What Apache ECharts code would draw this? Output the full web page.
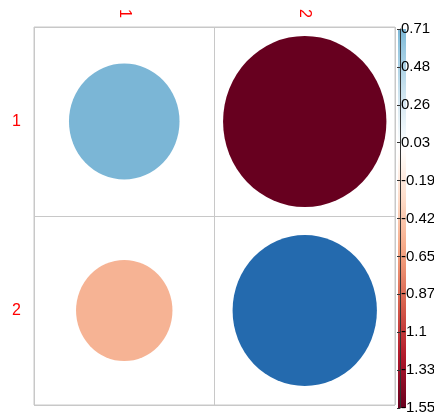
<!DOCTYPE html>
<html>
<head>
<meta charset="utf-8">
<script src="https://cdn.jsdelivr.net/npm/echarts@6/dist/echarts.min.js"></script>
<style>
  html, body { margin: 0; padding: 0; background: #fff; }
  #chart { width: 434px; height: 417px; }
</style>
</head>
<body>
<div id="chart"></div>
<script>
// ---- data ----
var rowLabels = ['1', '2'];
var colLabels = ['1', '2'];
// values[row][col]
var row1Values = [0.71, -1.55];
var row2Values = [-0.54, 1.21];
var colorbarLabels = ['-1.55', '-1.33', '-1.1', '-0.87', '-0.65', '-0.42', '-0.19', '0.03', '0.26', '0.48', '0.71'];
var colorbarMin = -1.55;
var colorbarMax = 0.71;

// RdBu palette (corrplot COL2), mapped symmetrically over [-limit, limit]
var palette = ['#67001F', '#B2182B', '#D6604D', '#F4A582', '#FDDBC7', '#FFFFFF',
               '#D1E5F0', '#92C5DE', '#4393C3', '#2166AC', '#053061'];
var limit = 1.55;

function hexToRgb(h) {
  return [parseInt(h.substr(1, 2), 16), parseInt(h.substr(3, 2), 16), parseInt(h.substr(5, 2), 16)];
}
function colorFor(v) {
  var t = (v + limit) / (2 * limit);
  t = Math.max(0, Math.min(1, t));
  var p = t * (palette.length - 1);
  var i = Math.min(palette.length - 2, Math.floor(p));
  var f = p - i;
  var a = hexToRgb(palette[i]), b = hexToRgb(palette[i + 1]);
  var c = a.map(function (x, k) { return Math.round(x + (b[k] - x) * f); });
  return 'rgb(' + c.join(',') + ')';
}

var matrix = [row1Values, row2Values];
var maxAbs = 0;
matrix.forEach(function (r) { r.forEach(function (v) { maxAbs = Math.max(maxAbs, Math.abs(v)); }); });

var cellData = [];
matrix.forEach(function (r, ri) {
  r.forEach(function (v, ci) { cellData.push([ci, ri, v]); });
});

var fontFam = '"Liberation Sans", Arial, sans-serif';

var chart = echarts.init(document.getElementById('chart'), null, { renderer: 'canvas' });

var option = {
  backgroundColor: '#fff',
  animation: false,
  grid: [
    { left: 34, right: 39, top: 27, bottom: 12, show: true, borderColor: '#c8c8c8', borderWidth: 1,
      containLabel: false, outerBoundsMode: 'none' },
    { left: 398, width: 8, top: 29, bottom: 9, show: false,
      containLabel: false, outerBoundsMode: 'none' }
  ],
  xAxis: [
    {
      gridIndex: 0, type: 'category', data: colLabels, position: 'top',
      axisLine: { show: false }, axisTick: { show: false },
      splitLine: { show: true, interval: 0, lineStyle: { color: '#c8c8c8', width: 1 } },
      axisLabel: { rotate: 90, color: '#ff0000', fontSize: 16, fontFamily: fontFam, margin: 9 }
    },
    { gridIndex: 1, type: 'value', min: 0, max: 1, show: false }
  ],
  yAxis: [
    {
      gridIndex: 0, type: 'category', data: rowLabels, inverse: true,
      axisLine: { show: false }, axisTick: { show: false },
      splitLine: { show: true, interval: 0, lineStyle: { color: '#c8c8c8', width: 1 } },
      axisLabel: { color: '#ff0000', fontSize: 16, fontFamily: fontFam, margin: 13 }
    },
    {
      gridIndex: 1, type: 'value', min: 0, max: 10, interval: 1, position: 'right', z: 10,
      axisLine: { show: false }, axisTick: { show: false }, splitLine: { show: false },
      axisLabel: {
        color: '#000', fontSize: 15, fontFamily: fontFam, margin: -5, align: 'left',
        formatter: function (val) { return colorbarLabels[Math.round(val)]; }
      }
    },
    {
      gridIndex: 1, type: 'value', min: 0, max: 10, interval: 1, position: 'left', offset: -2, z: 10,
      axisLine: { show: true, lineStyle: { color: '#333', width: 1 } },
      axisTick: { show: true, inside: false, length: 3, lineStyle: { color: '#333' } },
      axisLabel: { show: false }, splitLine: { show: false }
    }
  ],
  series: [
    {
      type: 'custom',
      xAxisIndex: 0, yAxisIndex: 0,
      data: cellData,
      renderItem: function (params, api) {
        var c = api.coord([api.value(0), api.value(1)]);
        var s = api.size([1, 1]);
        var v = api.value(2);
        var k = 0.905 * Math.sqrt(Math.abs(v) / maxAbs);
        var rx = s[0] / 2 * k, ry = s[1] / 2 * k;
        return {
          type: 'circle',
          x: c[0], y: c[1],
          scaleX: 1, scaleY: ry / rx,
          shape: { cx: 0, cy: 0, r: rx },
          style: { fill: colorFor(v) }
        };
      }
    },
    {
      type: 'custom',
      xAxisIndex: 1, yAxisIndex: 1,
      data: [[0, 0]],
      z: 1,
      renderItem: function (params, api) {
        var bl = api.coord([0, 0]);
        var tr = api.coord([1, 10]);
        var stops = [];
        var n = 40;
        for (var i = 0; i <= n; i++) {
          var v = colorbarMax - (colorbarMax - colorbarMin) * i / n;
          stops.push({ offset: i / n, color: colorFor(v) });
        }
        return {
          type: 'rect',
          shape: { x: bl[0], y: tr[1], width: tr[0] - bl[0], height: bl[1] - tr[1] },
          style: { fill: new echarts.graphic.LinearGradient(0, 0, 0, 1, stops) }
        };
      }
    }
  ]
};
chart.setOption(option);
</script>
</body>
</html>
